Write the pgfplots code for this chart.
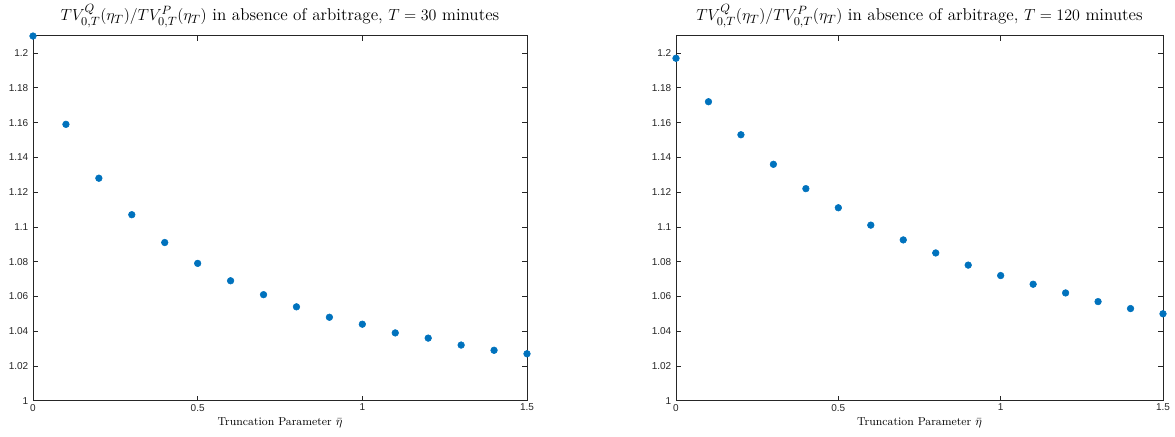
\documentclass[border=0pt]{standalone}
\usepackage{pgfplots}
\pgfplotsset{compat=1.18}
\usepackage{fontspec}
\newfontfamily\tickfont{Liberation Sans}
\definecolor{mblue}{rgb}{0,0.447,0.741}
\definecolor{axgray}{rgb}{0.15,0.15,0.15}
\pgfplotsset{
  mystyle/.style={
    scale only axis,
    width=370.5pt, height=273.75pt,
    xmin=0, xmax=1.5, ymin=1, ymax=1.21,
    xtick={0,0.5,1,1.5},
    ytick={1,1.02,...,1.2},
    tick align=inside,
    major tick length=3.8pt,
    axis line style={axgray, line width=0.5pt},
    every tick/.style={axgray, line width=0.5pt},
    tick label style={font=\tickfont\fontsize{7.5}{9}\selectfont, text=axgray},
    xticklabel style={yshift=1pt},
    /pgf/number format/assume math mode=true,
    yticklabel style={/pgf/number format/fixed, /pgf/number format/precision=2},
    xlabel={Truncation Parameter $\bar{\eta}$},
    xlabel style={font=\fontsize{8.6}{10}\selectfont, yshift=2pt},
    title style={font=\fontsize{12.8}{15}\selectfont, yshift=-3.5pt},
    clip=false,
  }
}
\begin{document}
\begin{tikzpicture}
\begin{axis}[mystyle, at={(0pt,0pt)}, anchor=south west,
  xticklabel style={/pgf/number format/fixed, /pgf/number format/precision=1},
  title={$TV^{Q}_{0,T}(\eta_T)/TV^{P}_{0,T}(\eta_T)$ in absence of arbitrage, $T=30$ minutes}]
\addplot[only marks, mark=*, mark size=2.5pt, mblue] coordinates {
(0,1.2098) (0.1,1.159) (0.2,1.128) (0.3,1.107) (0.4,1.091) (0.5,1.079)
(0.6,1.069) (0.7,1.061) (0.8,1.054) (0.9,1.048) (1.0,1.044) (1.1,1.039)
(1.2,1.036) (1.3,1.032) (1.4,1.029) (1.5,1.027)};
\end{axis}
\begin{axis}[mystyle, width=365.25pt, at={(482.25pt,0pt)}, anchor=south west,
  xticklabel style={/pgf/number format/fixed, /pgf/number format/precision=1},
  title={$TV^{Q}_{0,T}(\eta_T)/TV^{P}_{0,T}(\eta_T)$ in absence of arbitrage, $T=120$ minutes}]
\addplot[only marks, mark=*, mark size=2.5pt, mblue] coordinates {
(0,1.197) (0.1,1.172) (0.2,1.153) (0.3,1.136) (0.4,1.122) (0.5,1.111)
(0.6,1.101) (0.7,1.0925) (0.8,1.085) (0.9,1.078) (1.0,1.072) (1.1,1.067)
(1.2,1.062) (1.3,1.057) (1.4,1.053) (1.5,1.050)};
\end{axis}
\path[use as bounding box] (-24.75pt,-27pt) rectangle (856.5pt,299.25pt);
\end{tikzpicture}
\end{document}
